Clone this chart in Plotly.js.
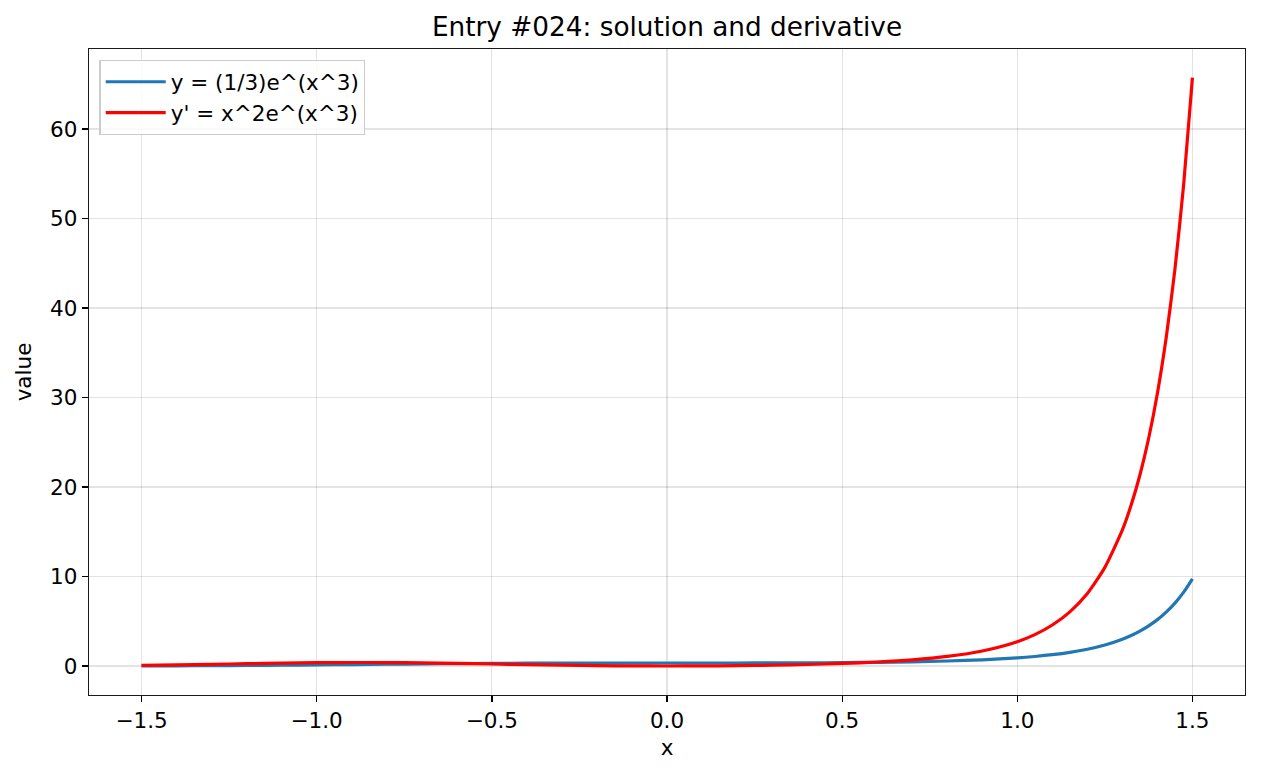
<!DOCTYPE html>
<html>
<head>
<meta charset="utf-8">
<script src="https://cdn.plot.ly/plotly-3.0.1.min.js"></script>
<style>html,body{margin:0;padding:0;background:#fff;}#chart{width:1261px;height:776px;}</style>
</head>
<body>
<div id="chart"></div>
<script>
var xValues = [-1.5,-1.4,-1.3,-1.2,-1.1,-1.0,-0.9,-0.8,-0.7,-0.6,-0.5,-0.4,-0.3,-0.2,-0.1,0.0,0.1,0.2,0.3,0.4,0.5,0.6,0.7,0.8,0.9,1.0,1.05,1.1,1.15,1.2,1.25,1.3,1.325,1.35,1.375,1.4,1.425,1.45,1.475,1.5];
var solution = [0.0114,0.0214,0.0370,0.0592,0.0881,0.1226,0.1608,0.1998,0.2365,0.2686,0.2942,0.3127,0.3245,0.3307,0.3330,0.3333,0.3337,0.3360,0.3425,0.3554,0.3777,0.4137,0.4697,0.5562,0.6910,0.9061,1.0608,1.2616,1.5254,1.8765,2.3504,2.999,3.413,3.903,4.487,5.183,6.02,7.029,8.25,9.741];
var derivative = [0.0770,0.126,0.188,0.256,0.320,0.368,0.391,0.384,0.348,0.290,0.221,0.150,0.0876,0.0397,0.0100,0.0,0.0100,0.0403,0.0925,0.1706,0.2833,0.4468,0.6905,1.0679,1.6791,2.7183,3.5086,4.5796,6.052,8.106,11.017,15.207,17.98,21.34,25.45,30.48,36.67,44.34,53.85,65.75];
var seriesNames = ["y = (1/3)e^(x^3)", "y' = x^2e^(x^3)"];
var xTicks = [-1.5,-1.0,-0.5,0.0,0.5,1.0,1.5];
var xTickText = ["\u22121.5","\u22121.0","\u22120.5","0.0","0.5","1.0","1.5"];
var yTicks = [0,10,20,30,40,50,60];

var font = "DejaVu Sans, sans-serif";
var fs = 21.5;
var traces = [
  {x: xValues, y: solution, name: seriesNames[0], mode: "lines", line: {color: "#1f77b4", width: 3.2, shape: "spline", smoothing: 0.6}},
  {x: xValues, y: derivative, name: seriesNames[1], mode: "lines", line: {color: "#ff0000", width: 3.2, shape: "spline", smoothing: 0.6}}
];
var layout = {
  width: 1261, height: 776,
  margin: {l: 89, r: 16, t: 49, b: 81},
  paper_bgcolor: "#fff", plot_bgcolor: "#fff",
  font: {family: font, size: fs, color: "#000"},
  title: {text: "Entry #024: solution and derivative", font: {family: font, size: 26.3, color: "#000"}, xref: "paper", x: 0.5, xanchor: "center", yref: "container", y: 0.965, yanchor: "middle"},
  xaxis: {
    range: [-1.65, 1.65], tickvals: xTicks, ticktext: xTickText,
    ticks: "outside", ticklen: 6, tickwidth: 1.3, tickcolor: "#000",
    showline: true, linecolor: "#1a1a1a", linewidth: 1.3, mirror: true,
    showgrid: true, gridcolor: "rgba(0,0,0,0.11)", gridwidth: 1.2, zeroline: false,
    title: {text: "x", font: {family: font, size: fs}, standoff: 8},
    tickfont: {family: font, size: fs}
  },
  yaxis: {
    range: [-3.24, 68.94], tickvals: yTicks,
    ticks: "outside", ticklen: 6, tickwidth: 1.3, tickcolor: "#000",
    showline: true, linecolor: "#1a1a1a", linewidth: 1.3, mirror: true,
    showgrid: true, gridcolor: "rgba(0,0,0,0.11)", gridwidth: 1.2, zeroline: false,
    title: {text: "value", font: {family: font, size: fs}, standoff: 12},
    tickfont: {family: font, size: fs}
  },
  showlegend: true,
  legend: {x: 0.009, y: 0.983, xanchor: "left", yanchor: "top", bgcolor: "rgba(255,255,255,0.8)", bordercolor: "#cccccc", borderwidth: 1.3, font: {family: font, size: fs}, tracegroupgap: 0, itemwidth: 60}
};
Plotly.newPlot("chart", traces, layout, {displayModeBar: false, staticPlot: true});
</script>
</body>
</html>
